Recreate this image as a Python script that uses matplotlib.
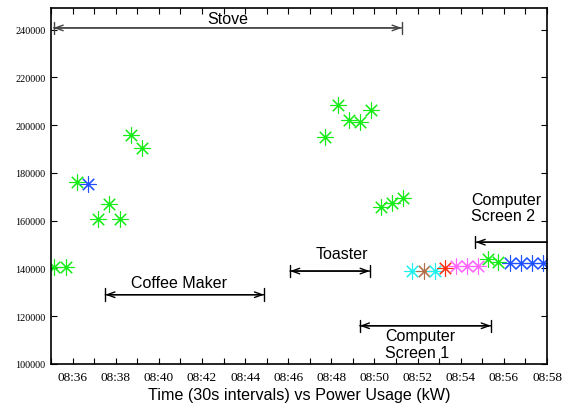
import pandas as pd
import numpy as np
import matplotlib
matplotlib.use("Agg")
import matplotlib.pyplot as plt
from matplotlib.ticker import FuncFormatter, MultipleLocator

# sample times (roughly every 30 s) and power readings
times = ["08:35:09", "08:35:42", "08:36:12", "08:36:43", "08:37:12", "08:37:42",
         "08:38:12", "08:38:42", "08:39:14",
         "08:47:42", "08:48:19", "08:48:49", "08:49:19", "08:49:49", "08:50:17",
         "08:50:49", "08:51:19",
         "08:51:45", "08:52:17", "08:52:47", "08:53:17", "08:53:47", "08:54:17",
         "08:54:47", "08:55:17", "08:55:45", "08:56:18", "08:56:47", "08:57:18",
         "08:57:49"]
power = [140600, 140600, 176000, 175200, 160500, 166800, 160500, 195700, 190400,
         195000, 208600, 202300, 201300, 206200, 165700, 167400, 169600,
         138900, 138900, 138900, 140100, 141200, 141200, 141200, 144000, 142600,
         142200, 142200, 142200, 142200]
cluster = ["g", "g", "g", "b", "g", "g", "g", "g", "g",
           "g", "g", "g", "g", "g", "g", "g", "g",
           "c", "br", "c", "r", "m", "m", "m", "g", "g", "b", "b", "b", "b"]

palette = {"g": "#18ec18", "b": "#1f50ff", "c": "#20f0f0", "br": "#b07048",
           "r": "#ff3010", "m": "#ff66ff"}

# appliance events: name, start, end, level
events = [
    ("Stove", "08:35:07", "08:51:16", 240700),
    ("Coffee Maker", "08:37:31", "08:44:53", 129000),
    ("Toaster", "08:46:05", "08:49:47", 138900),
    ("Computer\nScreen 1", "08:49:19", "08:55:24", 116000),
    ("Computer\nScreen 2", "08:54:41", "08:58:00", 151000),
]


def to_min(s):
    return pd.to_timedelta(s).total_seconds() / 60.0


x = np.array([to_min(t) for t in times])

fig = plt.figure(figsize=(5.71, 4.10), dpi=100)
ax = fig.add_axes([0.0893, 0.1098, 0.8687, 0.868])

for xi, yi, c in zip(x, power, cluster):
    ax.plot(xi, yi, linestyle="none", marker=(8, 2, 0), markersize=11.5,
            markeredgewidth=0.8, color=palette[c])
    ax.plot(xi, yi, linestyle="none", marker="o", markersize=1.8,
            color=palette[c], markeredgewidth=0)

# text placement for each event label
label_pos = {
    "Stove": ("08:43:13", 244800, "center"),
    "Coffee Maker": ("08:40:55", 134300, "center"),
    "Toaster": ("08:48:29", 146100, "center"),
    "Computer\nScreen 1": ("08:50:30", 108400, "left"),
    "Computer\nScreen 2": ("08:54:29", 165600, "left"),
}

for name, start, end, level in events:
    x0, x1 = to_min(start), to_min(end)
    lc = "#444444" if name == "Stove" else "black"
    open_end = name.startswith("Computer\nScreen 2")
    head = "<-" if open_end else "<->"
    bar = "]-,widthA=0.45,lengthA=0" if open_end else "|-|,widthA=0.45,widthB=0.45"
    ax.annotate("", xy=(x1, level), xytext=(x0, level),
                arrowprops=dict(arrowstyle=head + ",head_length=0.55,head_width=0.2",
                                color=lc, lw=1.0, shrinkA=0, shrinkB=0))
    ax.annotate("", xy=(x1, level), xytext=(x0, level),
                arrowprops=dict(arrowstyle=bar, color=lc, lw=1.0,
                                shrinkA=0, shrinkB=0))
    tx, ty, ha = label_pos[name]
    ax.text(to_min(tx), ty, name, ha=ha, va="center", fontsize=11.5,
            family="Liberation Sans", linespacing=1.12)

ax.set_xlim(to_min("08:35:00"), to_min("08:58:00"))
ax.set_ylim(100000, 249000)
ax.xaxis.set_major_locator(MultipleLocator(2))
ax.xaxis.set_minor_locator(MultipleLocator(1))
ax.xaxis.set_major_formatter(FuncFormatter(
    lambda v, p: "%02d:%02d" % (int(round(v)) // 60, int(round(v)) % 60)))
ax.set_yticks(np.arange(100000, 240001, 20000))

ax.tick_params(which="both", direction="in", top=True, right=True,
               length=4, width=0.8)
for lab in ax.get_xticklabels():
    lab.set_family("Liberation Serif")
    lab.set_fontsize(9.5)
for lab in ax.get_yticklabels():
    lab.set_family("Liberation Serif")
    lab.set_fontsize(7.3)
ax.tick_params(axis="x", pad=5)
ax.tick_params(axis="y", pad=4)

for sp in ax.spines.values():
    sp.set_linewidth(1.2)

ax.set_xlabel("Time (30s intervals) vs Power Usage (kW)", fontsize=11.6,
              family="Liberation Sans", labelpad=3)

fig.savefig("out.png", dpi=100)
